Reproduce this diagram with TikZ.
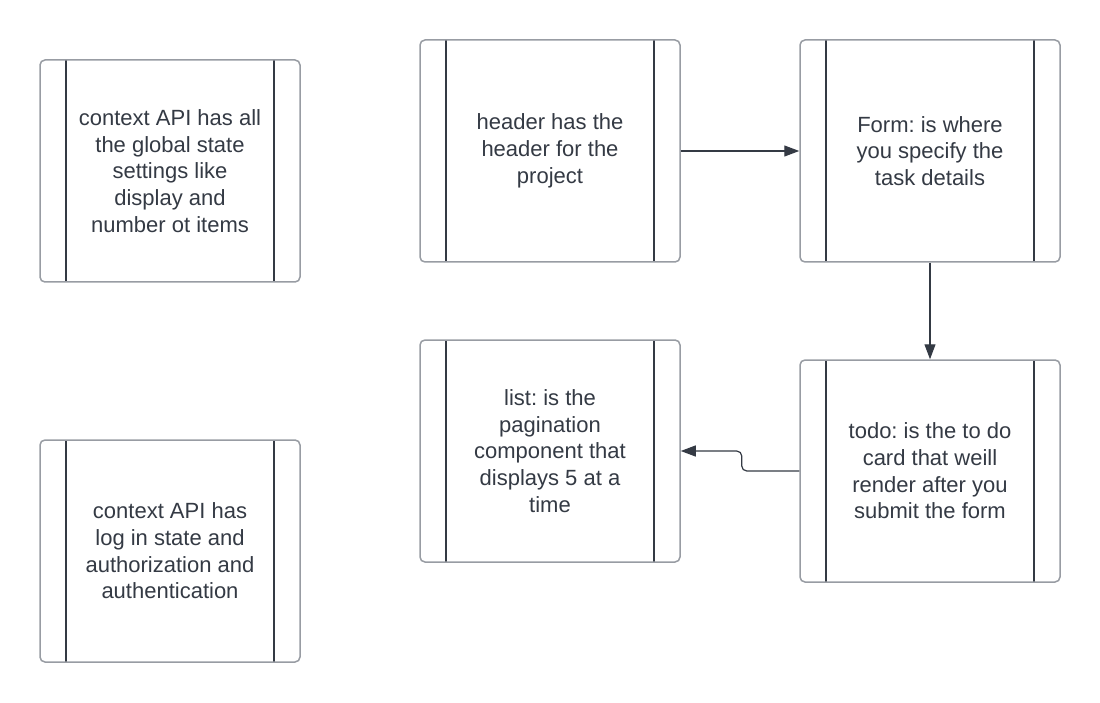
\documentclass[tikz,border=0pt]{standalone}
\usepackage{fontspec}
\setmainfont{Liberation Sans}
\frenchspacing
\usetikzlibrary{arrows.meta}
\definecolor{rim}{RGB}{152,156,163}
\definecolor{ink}{RGB}{52,58,68}
\tikzset{
  procbox/.style={draw=rim, line width=1.5pt, rounded corners=5pt, fill=white,
    minimum width=260pt, minimum height=222pt, inner sep=0pt,
    text=ink, align=center, font=\fontsize{22}{26.7}\selectfont,
    path picture={
      \draw[ink, line width=1.1pt]
        ([xshift=26pt]path picture bounding box.north west) --
        ([xshift=26pt]path picture bounding box.south west);
      \draw[ink, line width=1.1pt]
        ([xshift=-26pt]path picture bounding box.north east) --
        ([xshift=-26pt]path picture bounding box.south east);
    }},
  flow/.style={draw=ink, line width=1.2pt, -{Triangle[length=15pt, width=11pt]}}
}
\begin{document}
\begin{tikzpicture}[x=1pt, y=-1pt]
\useasboundingbox (0,0) rectangle (1100,703);
% left column
\node[procbox] (ctxstate) at (170,171) {context API has all\\the global state\\settings like\\display and\\number ot items};
\node[procbox] (ctxauth) at (170,551) {context API has\\log in state and\\authorization and\\authentication};
% flow of components
\node[procbox] (header) at (550,151) {header has the\\header for the\\project};
\node[procbox] (form) at (930,151) {Form: is where\\you specify the\\task details};
\node[procbox] (todo) at (930,471) {todo: is the to do\\card that weill\\render after you\\submit the form};
\node[procbox] (list) at (550,451) {list: is the\\pagination\\component that\\displays 5 at a\\time};
\draw[flow] (header.east) -- (form.west);
\draw[flow] (form.south) -- (todo.north);
\draw[flow, rounded corners=5pt] (todo.west) -| ([xshift=61pt]list.east) -- (list.east);
\end{tikzpicture}
\end{document}
